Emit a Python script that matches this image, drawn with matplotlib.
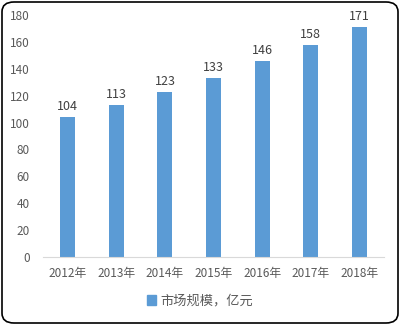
import matplotlib
matplotlib.use('Agg')
import matplotlib.pyplot as plt
from matplotlib.patches import FancyBboxPatch, Patch

plt.rcParams['font.family'] = ['Noto Sans CJK SC', 'DejaVu Sans']

years = ['2012年', '2013年', '2014年', '2015年', '2016年', '2017年', '2018年']
market_size = [104, 113, 123, 133, 146, 158, 171]
series_name = '市场规模，亿元'

bar_color = '#5B9BD5'
text_color = '#595959'

fig = plt.figure(figsize=(4.0, 3.25), dpi=100)
ax = fig.add_axes([43.5 / 400, (325 - 257) / 325, 340 / 400, 242 / 325])

xs = range(len(years))
bars = ax.bar(xs, market_size, width=0.31, color=bar_color)
for x, v in zip(xs, market_size):
    ax.text(x, v + 3, str(v), ha='center', va='bottom', fontsize=9, color='#404040')

ax.set_xlim(-0.5, len(years) - 0.5)
ax.set_ylim(0, 180)
ax.set_yticks(range(0, 181, 20))
ax.set_xticks(list(xs))
ax.set_xticklabels(years)
ax.tick_params(axis='both', length=0, labelcolor=text_color, labelsize=8.5)
ax.tick_params(axis='x', pad=7)
ax.tick_params(axis='y', pad=10)
for s in ['top', 'right', 'left']:
    ax.spines[s].set_visible(False)
ax.spines['bottom'].set_color('#D9D9D9')

fig.legend(handles=[Patch(color=bar_color, label=series_name)],
           loc='center', bbox_to_anchor=(0.5, (325 - 301) / 325),
           frameon=False, fontsize=9.5, handlelength=0.7, handleheight=0.7,
           handletextpad=0.3, labelcolor=text_color)

# rounded border around the whole chart
border = FancyBboxPatch((2 / 400, 2 / 325), 396 / 400, 321 / 325,
                        boxstyle='round,pad=0,rounding_size=0.03',
                        transform=fig.transFigure, fill=False,
                        edgecolor='black', linewidth=1.2)
fig.patches.append(border)

fig.savefig('out.png', dpi=100)
